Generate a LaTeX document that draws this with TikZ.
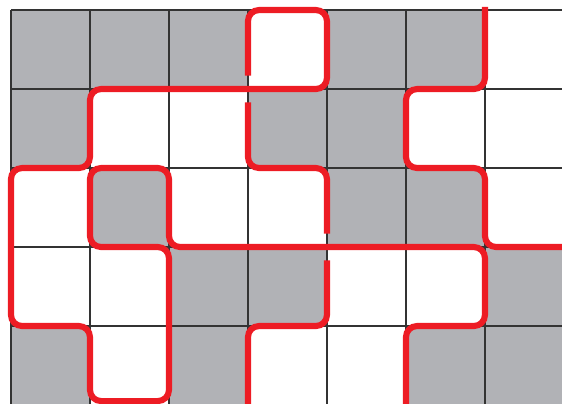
\documentclass[tikz,border=0pt]{standalone}
\usepackage{tikz}
\definecolor{cShade}{HTML}{B1B2B6}
\definecolor{cKnot}{HTML}{ED1C24}
\definecolor{cGrid}{HTML}{333333}
\tikzset{
  cell/.style={fill=cShade},
  gridl/.style={draw=cGrid,line width=.5pt},
  strand/.style={draw=cKnot,line width=2.2pt,rounded corners=4pt},
}

\begin{document}
\begin{tikzpicture}[y=-1cm]
  \useasboundingbox (-0.139,-0.127) rectangle (6.975,4.975);
  \clip (-0.139,-0.127) rectangle (6.975,4.975);
  % shaded cells
  \foreach \c/\r in {0/0,1/0,2/0,4/0,5/0, 0/1,3/1,4/1, 1/2,4/2,5/2, 2/3,3/3,6/3, 0/4,2/4,5/4,6/4}
    \fill[cell] (\c,\r) rectangle ++(1,1);
  % grid
  \foreach \c in {0,...,7} \draw[gridl] (\c,0) -- (\c,5.2);
  \foreach \r in {0,...,5} \draw[gridl] (0,\r) -- (7.2,\r);
  % long strand, broken where it runs under
  \draw[strand] (3,5.2) -- (3,4) -- (4,4) -- (4,3.17);
  \draw[strand] (4,2.83) -- (4,2) -- (3,2) -- (3,1.17);
  \draw[strand] (3,0.83) -- (3,0) -- (4,0) -- (4,1) -- (1,1) -- (1,2) -- (0,2) -- (0,4) -- (1,4)
    -- (1,4.95) -- (2,4.95) -- (2,3) -- (1,3) -- (1,2) -- (2,2) -- (2,3) -- (6,3) -- (6,4) -- (5,4) -- (5,5.2);
  % short strand on the right
  \draw[strand] (6,-0.04) -- (6,1) -- (5,1) -- (5,2) -- (6,2) -- (6,3) -- (7.2,3);
\end{tikzpicture}
\end{document}
